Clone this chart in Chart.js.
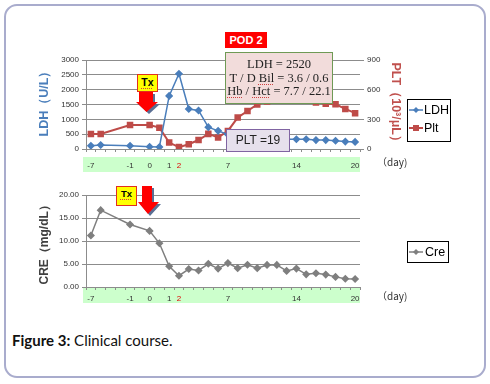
<!DOCTYPE html>
<html>
<head>
<meta charset="utf-8">
<script src="https://cdn.jsdelivr.net/npm/chart.js@4.4.1/dist/chart.umd.min.js"></script>
<style>
  html, body { margin: 0; padding: 0; background: #fff; }
  #wrap { position: relative; width: 490px; height: 384px; overflow: hidden; font-family: "Liberation Sans", Arial, sans-serif; }
  .frame { position: absolute; left: 4px; top: 4px; width: 478px; height: 370px; border: 2px solid #a9accd; border-radius: 13px; }
  .band { position: absolute; left: 83px; width: 277px; height: 15px; background: #ccffcc; }
  canvas { position: absolute; left: 0; }
  .ytitle { position: absolute; font-weight: bold; font-size: 12.5px; white-space: nowrap; transform-origin: center center; }
  .legend { position: absolute; border: 1px solid #000; background: #fff; font-size: 12.5px; }
  .legend div { position: relative; height: 18px; line-height: 18px; padding-left: 16px; }
  .legend svg { position: absolute; left: 1px; top: 5px; }
  .day { position: absolute; font-size: 10px; color: #333; font-family: "Noto Sans CJK JP", sans-serif; }
  .tx { position: absolute; background: #ffff00; border: 1px solid #e03020; font-weight: bold; font-size: 10.5px; text-align: center; box-sizing: border-box; }
  .sq { text-decoration: underline dotted #d04040; text-decoration-thickness: 1px; text-underline-offset: 2px; }
  .note { position: absolute; box-sizing: border-box; text-align: center; }
  .caption { position: absolute; left: 12px; top: 331px; font-family: Lato, "Open Sans", sans-serif; font-size: 15px; color: #111; white-space: nowrap; }
</style>
</head>
<body>
<div id="wrap">
  <div class="frame"></div>
  <div class="band" style="top:157px"></div>
  <div class="band" style="top:288px"></div>
  <canvas id="top" width="490" height="176" style="top:0"></canvas>
  <canvas id="bottom" width="490" height="130" style="top:176px"></canvas>

  <div class="ytitle" style="left:4px; top:92px; width:80px; text-align:center; color:#4a7ebb; transform:rotate(-90deg);">LDH（U/L）</div>
  <div class="ytitle" style="left:355px; top:94px; width:80px; text-align:center; color:#c0504d; transform:rotate(90deg);">PLT（10³/μL）</div>
  <div class="ytitle" style="left:4px; top:236px; width:80px; text-align:center; color:#404040; font-size:12px; transform:rotate(-90deg);">CRE（mg/dL）</div>

  <div class="legend" style="left:407px; top:99px; width:42px; height:40px; padding-top:1px;">
    <div><svg width="16" height="8"><line x1="0" y1="4" x2="14" y2="4" stroke="#4a7ebb" stroke-width="1.5"/><polygon points="7,1 10,4 7,7 4,4" fill="#4a7ebb"/></svg>LDH</div>
    <div><svg width="16" height="8"><line x1="0" y1="4" x2="14" y2="4" stroke="#be4b48" stroke-width="2"/><rect x="4" y="1" width="6" height="6" fill="#be4b48"/></svg>Plt</div>
  </div>
  <div class="legend" style="left:407px; top:241px; width:40px; height:20px;">
    <div style="padding-left:17px; line-height:20px; height:20px;"><svg width="16" height="8" style="top:6px"><line x1="0" y1="4" x2="14" y2="4" stroke="#7f7f7f" stroke-width="1.5"/><polygon points="7,1 10,4 7,7 4,4" fill="#7f7f7f"/></svg>Cre</div>
  </div>

  <div class="day" style="left:377px; top:154px;">（day)</div>
  <div class="day" style="left:377px; top:288px;">（day)</div>

  <!-- Tx markers and arrows -->
  <div class="tx" style="left:137px; top:74px; width:21px; height:18px; line-height:14px;"><span class="sq">Tx</span></div>
  <svg style="position:absolute; left:130px; top:88px;" width="34" height="30">
    <polygon points="11,6 25,6 25,16 30,16 19,26 8,16 11,16" fill="#5a6f94"/>
    <polygon points="9,4 23,4 23,14 28,14 16.5,24 6,14 9,14" fill="#ff0000"/>
  </svg>
  <div class="tx" style="left:116px; top:186px; width:21px; height:20px; line-height:14px; font-size:9.5px;"><span class="sq">Tx</span></div>
  <svg style="position:absolute; left:132px; top:184px;" width="34" height="34">
    <polygon points="12,4 22,4 22,20 29,20 18,32 8,20 12,20" fill="#5a6f94"/>
    <polygon points="10,2 20,2 20,18 27,18 16,30 6,18 10,18" fill="#ff0000"/>
  </svg>

  <!-- POD 2 annotation -->
  <div class="note" style="left:225px; top:32px; width:42px; height:16px; background:#ff0000; color:#fff; font-weight:bold; font-size:11px; line-height:16px;">POD 2</div>
  <div class="note" style="left:225px; top:52px; width:108px; height:52px; background:#f2dcdb; border:1.5px solid #6f9a55; font-family:'Liberation Serif', serif; font-size:12.5px; line-height:13.5px; padding-top:5px; color:#222;">
    LDH = 2520<br>T / D <span class="sq">Bil</span> = 3.6 / 0.6<br><span class="sq">Hb</span> / <span class="sq">Hct</span> = 7.7 / 22.1
  </div>
  <div class="note" style="left:226px; top:129px; width:64px; height:23px; background:#e6e0ec; border:1.5px solid #8064a2; font-size:12px; line-height:20px; color:#222;">PLT =19</div>

  <div class="caption"><b>Figure 3:</b> Clinical course.</div>
</div>

<script>
// day labels shown under each category (blank categories carry no label)
const days = ['-7', '', '', '', '-1', '', '0', '', '1', '2', '', '', '', '', '7', '', '', '', '', '', '', '14', '', '', '', '', '', '20'];

const ldh = [111, 135, null, null, 111, null, 78, 67, 1790, 2535, 1348, 1298, 736, 612, 490, 430, 390, 360, 340, 330, 330, 327, 327, 300, 300, 280, 250, 240];
const plt = [152, 152, null, null, 243, null, 243, 216, 65, 19, 48, 91, 153, 117, 183, 318, 384, 450, 480, 500, 510, 500, 490, 470, 458, 452, 405, 362];
const cre = [11.2, 16.7, null, null, 13.6, null, 12.2, 9.5, 4.5, 2.45, 3.9, 3.6, 5.05, 4.0, 5.2, 4.1, 4.85, 4.1, 4.8, 4.8, 3.5, 4.0, 2.75, 3.0, 2.7, 2.2, 1.8, 1.75];

const ldhTicks = [0, 500, 1000, 1500, 2000, 2500, 3000];
const pltTicks = [0, 300, 600, 900];
const creTicks = [0, 5, 10, 15, 20];

const axisGray = '#8c8c8c';
const tickFont = { family: 'Liberation Sans, Arial, sans-serif', size: 8 };

function xAxis(pad) {
  return {
    type: 'category',
    offset: true,
    grid: { offset: true, drawOnChartArea: false, tickLength: 3, color: axisGray },
    border: { color: axisGray },
    ticks: {
      autoSkip: false,
      maxRotation: 0,
      padding: pad,
      font: tickFont,
      color: (ctx) => (ctx.index === 9 ? '#e00000' : '#333'),
    },
  };
}

const base = {
  responsive: false,
  animation: false,
  devicePixelRatio: 1,
  plugins: { legend: { display: false }, tooltip: { enabled: false } },
};

new Chart(document.getElementById('top'), {
  type: 'line',
  data: {
    labels: days,
    datasets: [
      {
        label: 'LDH',
        data: ldh,
        yAxisID: 'y',
        borderColor: '#4a7ebb',
        backgroundColor: '#4a7ebb',
        borderWidth: 1.5,
        pointStyle: 'rectRot',
        pointRadius: 3,
        spanGaps: true,
      },
      {
        label: 'Plt',
        data: plt,
        yAxisID: 'y1',
        borderColor: '#be4b48',
        backgroundColor: '#be4b48',
        borderWidth: 2,
        pointStyle: 'rect',
        pointRadius: 3.2,
        spanGaps: true,
      },
    ],
  },
  options: {
    ...base,
    layout: { padding: { top: 60 } },
    scales: {
      x: { ...xAxis(9), afterFit: (s) => { s.height = 27; } },
      y: {
        min: 0,
        max: 3000,
        afterBuildTicks: (s) => { s.ticks = ldhTicks.map((v) => ({ value: v })); },
        grid: { color: axisGray, tickLength: 4 },
        border: { color: axisGray },
        ticks: { font: tickFont, color: '#333', padding: 3, callback: (v) => String(v) },
        afterFit: (s) => { s.width = 86; },
      },
      y1: {
        position: 'right',
        min: 0,
        max: 900,
        afterBuildTicks: (s) => { s.ticks = pltTicks.map((v) => ({ value: v })); },
        grid: { drawOnChartArea: false, color: axisGray, tickLength: 4 },
        border: { display: false },
        ticks: { font: tickFont, color: '#333', padding: 3, callback: (v) => String(v) },
        afterFit: (s) => { s.width = 130; },
      },
    },
  },
});

new Chart(document.getElementById('bottom'), {
  type: 'line',
  data: {
    labels: days,
    datasets: [
      {
        label: 'Cre',
        data: cre,
        borderColor: '#7f7f7f',
        backgroundColor: '#7f7f7f',
        borderWidth: 1.5,
        pointStyle: 'rectRot',
        pointRadius: 3,
        spanGaps: true,
      },
    ],
  },
  options: {
    ...base,
    layout: { padding: { top: 19, right: 130 } },
    scales: {
      x: { ...xAxis(4), afterFit: (s) => { s.height = 19; } },
      y: {
        min: 0,
        max: 20,
        afterBuildTicks: (s) => { s.ticks = creTicks.map((v) => ({ value: v })); },
        grid: { color: axisGray, tickLength: 4 },
        border: { color: axisGray },
        ticks: { font: tickFont, color: '#333', padding: 3, callback: (v) => Number(v).toFixed(2) },
        afterFit: (s) => { s.width = 86; },
      },
    },
  },
});
</script>
</body>
</html>
